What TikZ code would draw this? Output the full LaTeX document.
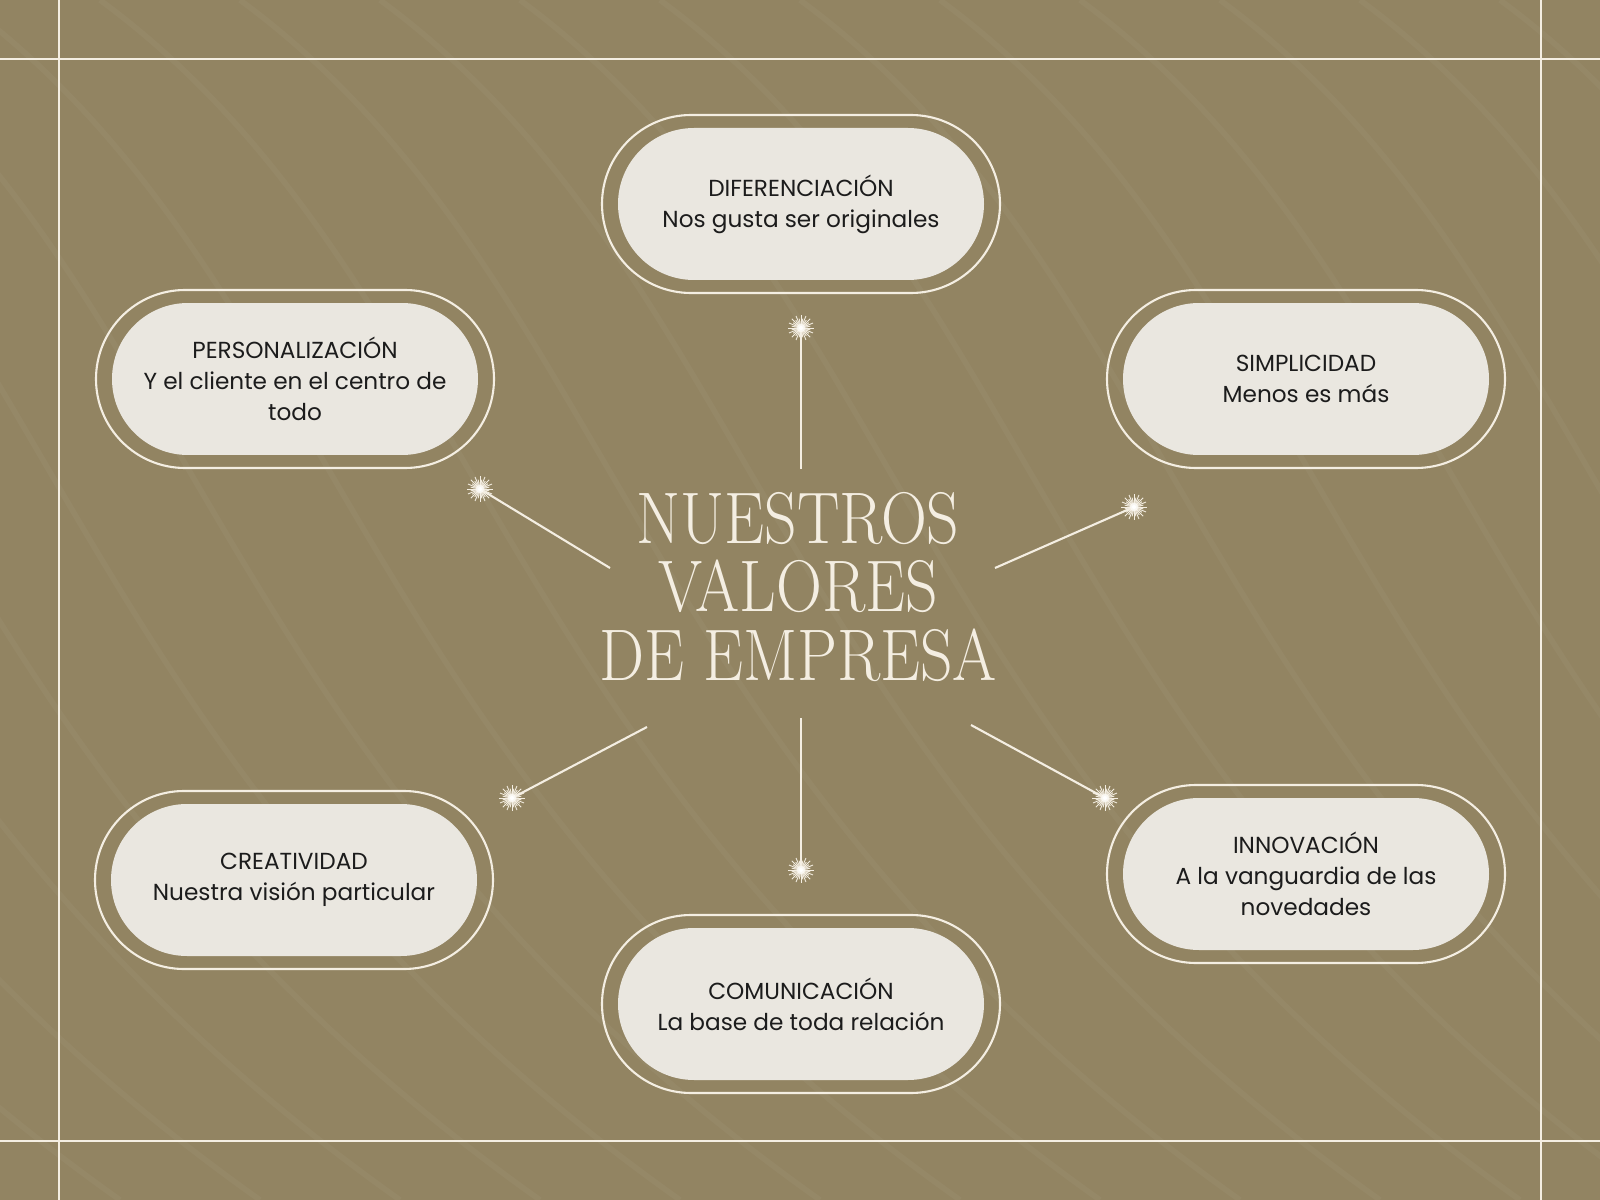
\documentclass[tikz,border=0pt]{standalone}
\usepackage{fontspec}
\usepackage{graphicx}
\newfontfamily\bodyfont{Poppins}

\definecolor{olive}{HTML}{928462}
\definecolor{cream}{HTML}{F4EEE2}
\definecolor{pillfill}{HTML}{EAE7E0}
\definecolor{ink}{HTML}{1C1C1C}
\newcommand{\narrowcap}[1]{\scalebox{0.87}[1]{#1}}

\tikzset{
  ring/.style={draw=cream,line width=0.6pt,rounded corners=8.9mm,minimum width=39.8mm,minimum height=17.8mm},
  pill/.style={fill=pillfill,rounded corners=7.6mm,minimum width=36.6mm,minimum height=15.2mm,inner sep=0pt,
    align=center,text=ink,font=\bodyfont\fontsize{6.6}{8.8}\selectfont},
  link/.style={draw=cream,line width=0.6pt},
  ray/.style={draw=cream,line width=0.25pt}
}

\begin{document}
\begin{tikzpicture}[x=0.1mm,y=-0.1mm]
      \useasboundingbox (0,0) rectangle (1600,1200);
      \fill[olive] (0,0) rectangle (1600,1200);
      % faint streaks
      \begin{scope}
        \clip (0,0) rectangle (1600,1200);
        \foreach \k in {-1300,-1160,...,1500}
          \draw[white,opacity=0.035,line width=1.6pt] (\k,0) .. controls (\k+380,280) and (\k+380,760) .. (\k+1000,1200);
      \end{scope}
      % frame
      \draw[link] (59,0)--(59,1200) (1541,0)--(1541,1200) (0,59)--(1600,59) (0,1141)--(1600,1141);
      % pills
      \foreach \n/\x/\y in {dif/801/204,pers/295/379,simp/1306/379,crea/294/880,comu/801/1004,inno/1306/874}
        \node[ring] (\n-r) at (\x,\y) {};
      \node[pill] (dif) at (dif-r) {DIFERENCIACIÓN\\Nos gusta ser originales};
      \node[pill] (pers) at (pers-r) {PERSONALIZACIÓN\\Y el cliente en el centro de\\todo};
      \node[pill] (simp) at (simp-r) {SIMPLICIDAD\\Menos es más};
      \node[pill] (crea) at (crea-r) {CREATIVIDAD\\Nuestra visión particular};
      \node[pill] (comu) at (comu-r) {COMUNICACIÓN\\La base de toda relación};
      \node[pill] (inno) at (inno-r) {INNOVACIÓN\\A la vanguardia de las\\novedades};
      % title
      \node[text=cream,align=center,font=\fontsize{20.8}{19.4}\selectfont] (title) at (798,587)
        {\narrowcap{NUESTROS}\\\narrowcap{VALORES}\\\narrowcap{DE EMPRESA}};
      % connectors
      \coordinate (tT) at (801,469);  \coordinate (sT) at (801,328);
      \coordinate (tUL) at (610,568); \coordinate (sUL) at (480,489);
      \coordinate (tUR) at (995,568); \coordinate (sUR) at (1134,507);
      \coordinate (tLL) at (647,727); \coordinate (sLL) at (512,798);
      \coordinate (tB) at (801,718);  \coordinate (sB) at (801,870);
      \coordinate (tLR) at (971,725); \coordinate (sLR) at (1105,798);
      \foreach \a/\b in {tT/sT,tUL/sUL,tUR/sUR,tLL/sLL,tB/sB,tLR/sLR}
        \draw[link] (\a)--(\b);
      % sparkles
      \foreach \s in {sT,sUL,sUR,sLL,sB,sLR}{
        \fill[white,opacity=0.25] (\s) circle (0.7mm);
        \foreach \a in {0,22.5,...,337.5} \draw[ray] (\s)--++(\a:1.3mm);
        \foreach \a in {11.25,33.75,...,348.75} \draw[ray] (\s)--++(\a:0.95mm);
        \fill[white,opacity=0.6] (\s) circle (0.4mm);
        \fill[white] (\s) circle (0.2mm);
      }
    \end{tikzpicture}
\end{document}
